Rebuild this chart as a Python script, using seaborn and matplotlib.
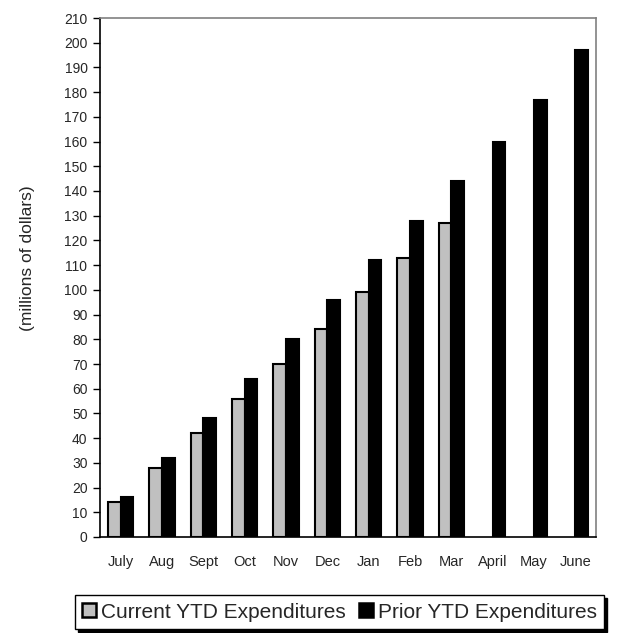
import numpy as np
import pandas as pd
import matplotlib
matplotlib.use("Agg")
import matplotlib.pyplot as plt
import seaborn as sns
from matplotlib.patches import Patch

months = ["July", "Aug", "Sept", "Oct", "Nov", "Dec", "Jan", "Feb", "Mar", "April", "May", "June"]
current_ytd = [14, 28, 42, 56, 70, 84, 99, 113, 127, np.nan, np.nan, np.nan]
prior_ytd = [16, 32, 48, 64, 80, 96, 112, 128, 144, 160, 177, 197]
series_names = ["Current YTD Expenditures", "Prior YTD Expenditures"]
y_ticks = list(range(0, 211, 10))

df = pd.DataFrame({
    "month": months * 2,
    "value": current_ytd + prior_ytd,
    "series": [series_names[0]] * len(months) + [series_names[1]] * len(months),
})

sns.set_style("white")
plt.rcParams["font.family"] = ["Liberation Sans", "DejaVu Sans"]

W, H = 617, 633
fig = plt.figure(figsize=(W / 100, H / 100), dpi=100)
ax = fig.add_axes([100 / W, 1 - 537 / H, 496 / W, 519 / H])

colors = {series_names[0]: "#c0c0c0", series_names[1]: "#000000"}
sns.barplot(data=df, x="month", y="value", hue="series", order=months,
            hue_order=series_names, palette=colors, width=0.62, gap=0,
            edgecolor="black", linewidth=1.5, ax=ax, legend=False)

ax.set_ylim(0, 210)
ax.set_xlim(-0.5, len(months) - 0.5)
ax.set_yticks(y_ticks)
ax.set_yticklabels([str(t) for t in y_ticks], fontsize=10)
ax.set_xticks(range(len(months)))
ax.set_xticklabels(months, fontsize=10.5)
ax.set_xticks(np.arange(-0.5, len(months), 1.0), minor=True)
ax.tick_params(axis="x", which="major", length=0, pad=13)
ax.tick_params(axis="x", which="minor", length=5, width=1, color="black", direction="out")
ax.tick_params(axis="y", which="major", length=5, width=1, color="black", direction="out", left=True, pad=4)
ax.set_xlabel("")
ax.set_ylabel("(millions of dollars)", fontsize=12.5)
ax.yaxis.set_label_coords(-65 / 496, (537 - 258) / 519)

for side in ["left", "bottom"]:
    ax.spines[side].set_color("black")
    ax.spines[side].set_linewidth(1.2)
for side in ["top", "right"]:
    ax.spines[side].set_visible(True)
    ax.spines[side].set_color("#808080")
    ax.spines[side].set_linewidth(1.2)

handles = [Patch(facecolor=colors[s], edgecolor="black", linewidth=1.8) for s in series_names]
leg = fig.legend(handles, series_names, loc="center", bbox_to_anchor=(339.5 / W, 1 - 612 / H),
                 ncol=2, fontsize=15, frameon=True, fancybox=False, edgecolor="black",
                 handlelength=0.65, handleheight=0.65, handletextpad=0.25, columnspacing=0.65,
                 borderpad=0.35, borderaxespad=0,
                 shadow={"color": "black", "alpha": 1.0})
leg.get_frame().set_linewidth(1.0)

fig.savefig("out.png", dpi=100)
